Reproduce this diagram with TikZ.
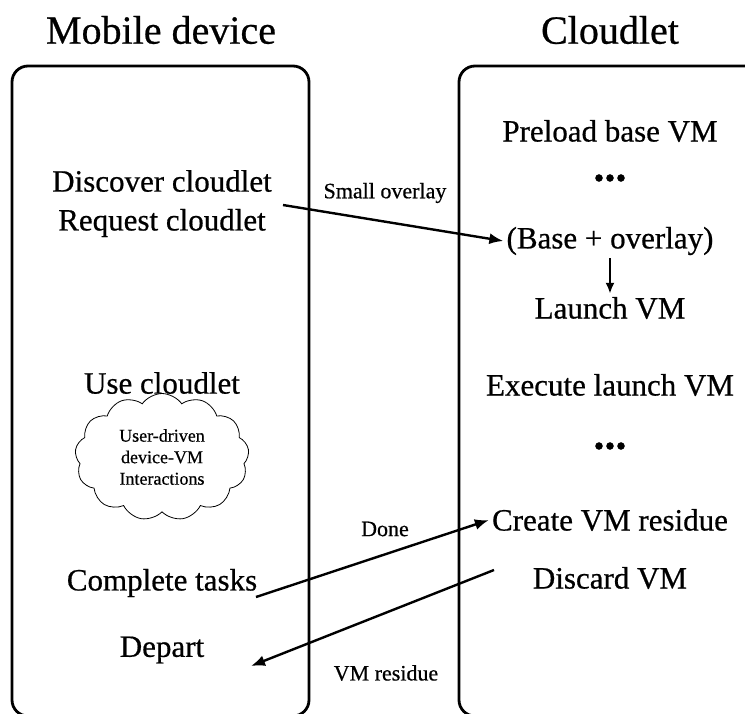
\documentclass[tikz,border=0pt]{standalone}
\usepackage{fontspec}
\setmainfont[FakeBold=0.6]{Liberation Serif}
\usetikzlibrary{arrows.meta,shapes.symbols}

\begin{document}
\begin{tikzpicture}[x=1pt,y=-1pt,
  lane/.style={draw,line width=2.8pt,rounded corners=16pt},
  lanetitle/.style={inner sep=0pt,font=\fontsize{40}{44}\selectfont},
  act/.style={inner sep=3pt,font=\fontsize{31}{34}\selectfont},
  dots/.style={inner sep=0pt,font=\fontsize{44}{44}\selectfont\bfseries},
  lbl/.style={inner sep=0pt,font=\fontsize{22}{24}\selectfont},
  msg/.style={line width=2.4pt,-{Latex[length=14pt,width=11pt]}},
  bubble/.style={draw,line width=0.8pt,cloud,cloud puffs=13,cloud puff arc=110,
    minimum width=174pt,minimum height=127pt,aspect=1.35,align=center,
    font=\fontsize{18}{21.5}\selectfont},
]
\useasboundingbox (0,0) rectangle (745,713);
\clip (0,0) rectangle (745,713);

% swimlanes
\draw[lane] (12,66) rectangle (309,716);
\draw[lane] (459,66) rectangle (775,716);
\node[lanetitle] (tm) at (161,30) {Mobile device};
\node[lanetitle] (tc) at (610,30) {Cloudlet};

% mobile device side
\node[act] (disc) at (162,181) {Discover cloudlet};
\node[act] (req)  at (162,223) {Request cloudlet};
\node[act] (use)  at (162,383) {Use cloudlet};
\node[bubble] (inter) at (162,457) {User-driven\\device-VM\\Interactions};
\node[act] (comp) at (162,583) {Complete tasks};
\node[act] (dep)  at (162,650) {Depart};

% cloudlet side
\node[act]  (pre)   at (610,131) {Preload base VM};
\node[dots] (dots1) at (610,178) {...};
\node[act]  (base)  at (610,241) {(Base + overlay)};
\node[act]  (lau)   at (610,308) {Launch VM};
\node[act]  (exe)   at (610,385) {Execute launch VM};
\node[dots] (dots2) at (610,446) {...};
\node[act]  (cre)   at (610,520) {Create VM residue};
\node[act]  (dis)   at (610,578) {Discard VM};

% messages
\coordinate (ovs) at (283,205);
\coordinate (dns) at (256,597);
\coordinate (vrs) at (494,570);
\coordinate (vre) at (251,666);
\draw[msg] (ovs) -- (base.west);
\draw[line width=2.2pt,-{Latex[length=11pt,width=9pt]}] (base.south) -- (lau.north);
\draw[msg] (dns) -- (cre.west);
\draw[msg] (vrs) -- (vre);

\node[lbl] (l1) at (385,193) {Small overlay};
\node[lbl] (l2) at (385,529) {Done};
\node[lbl] (l3) at (386,673) {VM residue};
\end{tikzpicture}
\end{document}
